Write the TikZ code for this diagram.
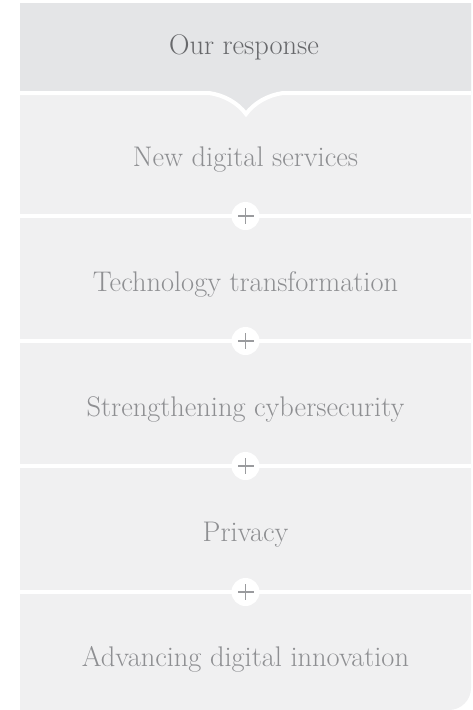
\documentclass[tikz,border=0pt]{standalone}
\usepackage{tikz}
\usetikzlibrary{positioning}
\definecolor{headfill}{HTML}{E4E5E7}
\definecolor{bodyfill}{HTML}{F0F0F1}
\definecolor{headtext}{HTML}{67686B}
\definecolor{bodytext}{HTML}{8E8F92}
\definecolor{plusgray}{HTML}{9A9B9E}
\pgfdeclarelayer{backlayer}
\pgfdeclarelayer{nodelayer}
\pgfdeclarelayer{edgelayer}
\pgfsetlayers{backlayer,edgelayer,nodelayer,main}
\tikzstyle{none}=[inner sep=-1pt]
\tikzstyle{headtxt}=[inner sep=0pt, anchor=base, text=headtext, font=\fontsize{28.4}{32}\selectfont]
\tikzstyle{itemtxt}=[inner sep=0pt, anchor=base, text=bodytext, font=\fontsize{28.4}{32}\selectfont]
\tikzstyle{sep}=[white, line width=4pt]
\tikzset{oplus/.style={fill=white, circle, minimum size=28pt, inner sep=0pt, outer sep=0pt, append after command={
[every edge/.style={draw=plusgray, line width=1.6pt, shorten >=6pt, shorten <=6pt}]
(\tikzlastnode.north) edge (\tikzlastnode.south)
(\tikzlastnode.east) edge (\tikzlastnode.west)
} } }

\begin{document}
\begin{tikzpicture}[x=1pt, y=-1pt]
        \useasboundingbox (0,0) rectangle (473,710);
        \begin{pgfonlayer}{backlayer}
            % panel
            \fill [bodyfill] (20,3) -- (471,3) -- (471,688) .. controls (471,700.15) and (461.15,710) .. (449,710) -- (20,710) -- cycle;
            % header with its tab
            \fill [headfill] (20,3) -- (471,3) -- (471,93) -- (283,93) .. controls (268,95) and (254,103) .. (246,114) .. controls (238,103) and (224,95) .. (209,93) -- (20,93) -- cycle;
        \end{pgfonlayer}
        \begin{pgfonlayer}{nodelayer}
            \node [style=headtxt] (0) at (244, 54) {Our response};
            \node [style=itemtxt] (1) at (245.5, 166) {New digital services};
            \node [style=itemtxt] (2) at (245.5, 291) {Technology transformation};
            \node [style=itemtxt] (3) at (245.5, 416.5) {Strengthening cybersecurity};
            \node [style=itemtxt] (4) at (245.5, 541.5) {Privacy};
            \node [style=itemtxt] (5) at (245.5, 666.5) {Advancing digital innovation};
            \node [style=none] (6) at (20, 93) {};
            \node [style=none] (7) at (471, 93) {};
            \node [style=none] (8) at (209, 93) {};
            \node [style=none] (9) at (283, 93) {};
            \node [style=none] (10) at (246, 114) {};
            \node [style=none] (11) at (20, 216) {};
            \node [style=none] (12) at (471, 216) {};
            \node [style=none] (13) at (20, 341) {};
            \node [style=none] (14) at (471, 341) {};
            \node [style=none] (15) at (20, 466) {};
            \node [style=none] (16) at (471, 466) {};
            \node [style=none] (17) at (20, 592) {};
            \node [style=none] (18) at (471, 592) {};
            \node [style=oplus] (19) at (245.5, 216) {};
            \node [style=oplus] (20) at (245.5, 341) {};
            \node [style=oplus] (21) at (245.5, 466) {};
            \node [style=oplus] (22) at (245.5, 592) {};
        \end{pgfonlayer}
        \begin{pgfonlayer}{edgelayer}
            \draw [style=sep] (6.center) to (8.center) .. controls (224,95) and (238,103) .. (10.center) .. controls (254,103) and (268,95) .. (9.center) to (7.center);
            \draw [style=sep] (11.center) to (12.center);
            \draw [style=sep] (13.center) to (14.center);
            \draw [style=sep] (15.center) to (16.center);
            \draw [style=sep] (17.center) to (18.center);
        \end{pgfonlayer}
\end{tikzpicture}
\end{document}
